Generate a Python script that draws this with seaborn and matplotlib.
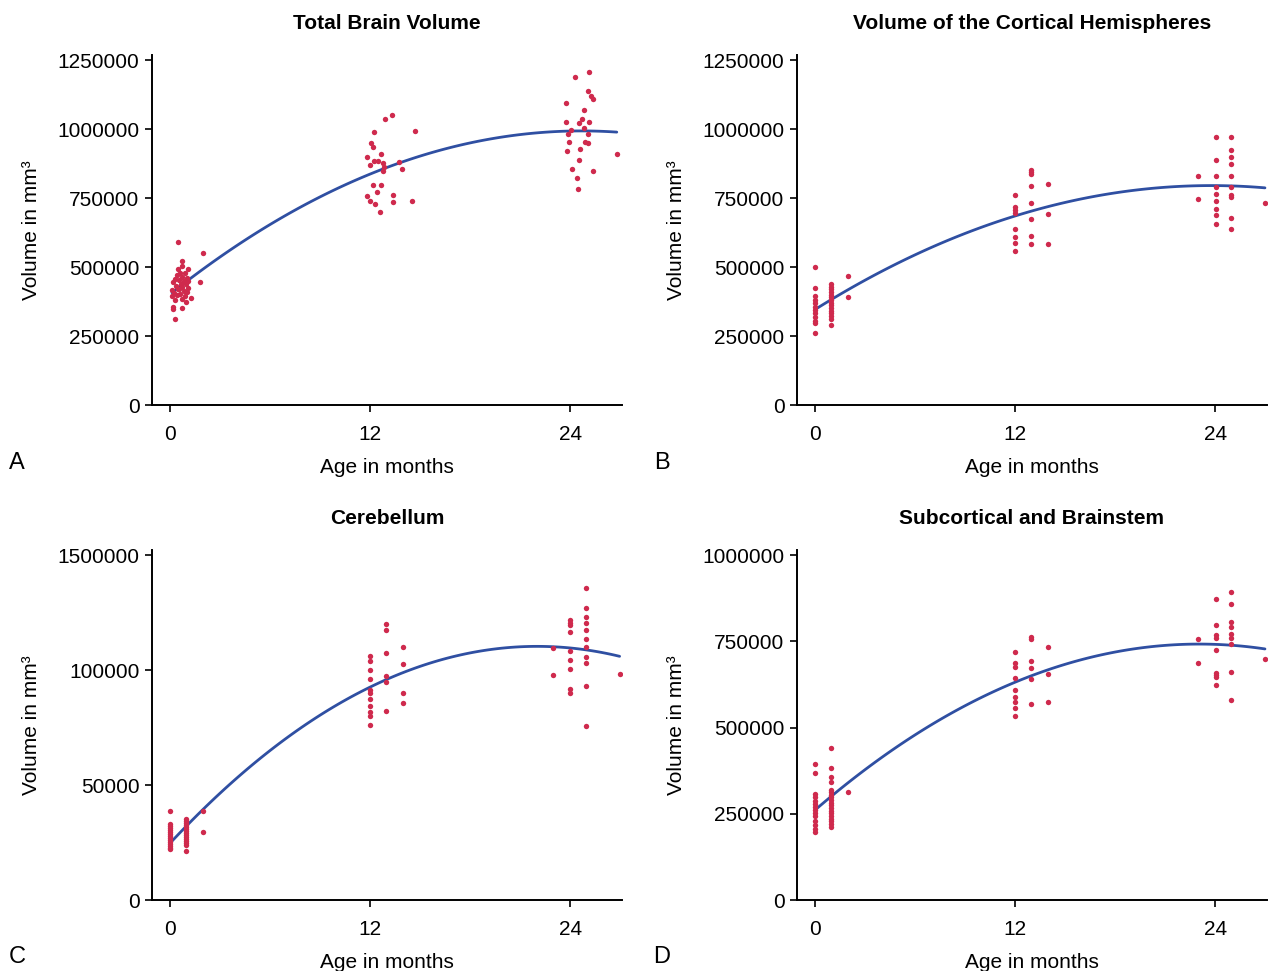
import numpy as np
import pandas as pd
import matplotlib
matplotlib.use("Agg")
import matplotlib.pyplot as plt
import seaborn as sns

# Total brain volume: (age, volume) read point by point
tbv_age = [0.46, 1.98, 0.74, 0.74, 0.48, 1.06, 0.60, 0.90, 0.40, 0.70,
           1.00, 0.30, 0.55, 0.85, 1.10, 0.20, 0.65, 0.95, 1.80, 0.35,
           0.75, 1.05, 0.50, 0.15, 0.85, 0.25, 0.60, 1.26, 0.12, 0.40,
           0.90, 0.70, 0.30, 0.94, 0.20, 0.17, 0.70, 0.32, 0.55, 1.00,
           13.31, 12.90, 12.26, 14.69, 12.04, 12.17, 12.68, 11.81, 12.26, 12.50,
           12.75, 13.73, 11.99, 12.86, 13.91, 12.75, 12.20, 12.65, 12.40, 11.84,
           13.37, 11.99, 13.37, 14.53, 12.32, 12.57,
           25.15, 24.29, 25.09, 25.23, 25.37, 23.75, 24.85, 24.69, 23.75, 24.51,
           25.13, 24.85, 24.07, 23.85, 25.09, 23.95, 24.89, 25.07, 23.79, 24.61,
           26.79, 24.55, 24.13, 25.35, 24.43, 24.45]
tbv_vol = [590000, 550000, 523000, 505000, 494000, 494000, 480000, 478000, 470000, 465000,
           462000, 455000, 452000, 450000, 448000, 445000, 440000, 438000, 445000, 432000,
           428000, 425000, 420000, 415000, 412000, 405000, 402000, 387000, 394000, 398000,
           395000, 385000, 380000, 374000, 356000, 348000, 350000, 310000, 420000, 410000,
           1051000, 1036000, 989000, 993000, 950000, 935000, 909000, 900000, 884000, 883000,
           876000, 882000, 868000, 861000, 855000, 847000, 797000, 796000, 771000, 756000,
           760000, 740000, 734000, 739000, 728000, 698000,
           1208000, 1187000, 1138000, 1120000, 1108000, 1093000, 1069000, 1036000, 1025000, 1023000,
           1026000, 1004000, 996000, 981000, 981000, 954000, 954000, 949000, 920000, 929000,
           908000, 888000, 856000, 847000, 823000, 782000]

# Other panels: points stacked in columns at a few ages
ctx_ages = [0.0, 0.94, 1.96, 12.0, 12.96, 13.96, 22.94, 24.02, 24.96, 26.98]
ctx_vols = [[498900, 425000, 396000, 381500, 368500, 356200, 344200, 332200, 320100, 305400, 296000, 259800],
            [438400, 428700, 419200, 409400, 399600, 390200, 380400, 370700, 361200, 351400, 341700, 332200,
             322500, 312800, 291000],
            [467400, 390200],
            [759800, 718500, 706500, 694600, 637700, 607600, 588000, 559000],
            [851400, 844200, 835700, 794600, 733000, 672800, 611200, 583300],
            [800700, 690900, 583300],
            [828600, 747500],
            [972100, 888800, 828600, 788800, 763400, 740200, 710100, 689500, 656900],
            [972100, 925000, 898600, 872100, 828600, 788800, 759800, 753600, 678600, 637700],
            [731900]]

cb_ages = [0.0, 0.98, 1.99, 12.02, 12.98, 13.97, 22.95, 24.01, 24.93, 26.96]
cb_vols = [[38560, 33040, 32170, 31300, 30430, 29570, 28700, 27830, 26960, 26090, 25220, 24350, 23480,
            22610, 22040],
           [35070, 34200, 33330, 32460, 31590, 30720, 29860, 28990, 28120, 27250, 26380, 25510, 24650,
            23780, 21170],
           [38560, 29570],
           [106090, 104040, 99870, 96220, 91300, 89870, 87390, 84200, 81870, 80000, 76090],
           [119870, 117260, 107260, 97520, 94910, 82040],
           [109870, 102610, 89870, 85520],
           [109430, 97830],
           [121740, 120570, 119570, 116390, 108390, 104480, 100430, 91610, 90130],
           [135780, 126960, 123040, 120570, 117390, 113480, 109870, 105650, 103040, 93170, 75780],
           [98390]]

sub_ages = [0.0, 0.94, 1.96, 12.0, 12.96, 13.96, 22.94, 24.02, 24.94, 26.98]
sub_vols = [[393300, 367200, 306400, 297700, 287800, 279100, 270400, 260900, 253000, 244300, 229900,
             218300, 206700, 198000],
            [440600, 381700, 357400, 342900, 319700, 313000, 305200, 297700, 289900, 282000, 274500,
             266700, 258800, 251300, 243500, 235700, 228100, 220300, 212500],
            [313000],
            [718800, 687800, 676200, 644300, 608700, 588400, 573000, 555600, 534200],
            [763200, 755600, 691900, 672500, 640600, 568100],
            [732500, 655100, 573900],
            [755600, 686100],
            [873300, 798000, 769000, 759400, 724600, 657100, 651300, 647300, 623200],
            [892800, 858800, 804900, 790400, 771000, 758600, 742000, 660000, 578800],
            [697700]]

titles = ["Total Brain Volume", "Volume of the Cortical Hemispheres", "Cerebellum",
          "Subcortical and Brainstem"]
letters = ["A", "B", "C", "D"]
y_ticks = [[0, 250000, 500000, 750000, 1000000, 1250000],
           [0, 250000, 500000, 750000, 1000000, 1250000],
           [0, 50000, 100000, 150000],
           [0, 250000, 500000, 750000, 1000000]]
y_ticklabels = [["0", "250000", "500000", "750000", "1000000", "1250000"],
                ["0", "250000", "500000", "750000", "1000000", "1250000"],
                ["0", "50000", "100000", "1500000"],
                ["0", "250000", "500000", "750000", "1000000"]]


def columns_to_frame(ages, vols):
    rows = [(a, v) for a, col in zip(ages, vols) for v in col]
    return pd.DataFrame(rows, columns=["age", "vol"])


frames = [pd.DataFrame({"age": tbv_age, "vol": tbv_vol}),
          columns_to_frame(ctx_ages, ctx_vols),
          columns_to_frame(cb_ages, cb_vols),
          columns_to_frame(sub_ages, sub_vols)]

sns.set_style("ticks")
plt.rcParams["font.family"] = ["Liberation Sans", "DejaVu Sans"]
plt.rcParams["font.size"] = 15
plt.rcParams["text.color"] = "black"
plt.rcParams["axes.labelcolor"] = "black"
plt.rcParams["xtick.color"] = "black"
plt.rcParams["ytick.color"] = "black"

red = "#cf2a4d"
blue = "#2f4fa2"

fig = plt.figure(figsize=(12.75, 9.71), dpi=100)
positions = [[0.1192, 0.5829, 0.3686, 0.3604],
             [0.6251, 0.5829, 0.3686, 0.3604],
             [0.1192, 0.0731, 0.3686, 0.3604],
             [0.6251, 0.0731, 0.3686, 0.3604]]

for i, df in enumerate(frames):
    ax = fig.add_axes(positions[i])
    sns.regplot(data=df, x="age", y="vol", order=2, ci=None, scatter=False,
                color=blue, line_kws={"linewidth": 2.0}, truncate=True, ax=ax)
    sns.scatterplot(data=df, x="age", y="vol", color=red, s=15, linewidth=0, ax=ax, zorder=3)
    top = y_ticks[i][-1]
    ax.set_ylim(0, top * 350 / 345)
    ax.set_xlim(-1.08, 27.1)
    ax.set_xticks([0, 12, 24])
    ax.set_yticks(y_ticks[i])
    ax.set_yticklabels(y_ticklabels[i])
    ax.set_xlabel("Age in months", labelpad=10)
    ax.set_ylabel("Volume in mm³", labelpad=12)
    ax.set_title(titles[i], fontweight="bold", fontsize=15, pad=18.5, color="black")
    sns.despine(ax=ax)
    for s in ["left", "bottom"]:
        ax.spines[s].set_linewidth(1.4)
        ax.spines[s].set_color("black")
    ax.tick_params(axis="both", length=5, width=1.2, colors="black", labelsize=15)
    ax.tick_params(axis="x", pad=9.5)
    ax.tick_params(axis="y", pad=4)

fig.text(17 / 1275, 1 - 463 / 971, "A", fontsize=17, ha="center", va="center")
fig.text(662 / 1275, 1 - 463 / 971, "B", fontsize=17, ha="center", va="center")
fig.text(17 / 1275, 1 - 957 / 971, "C", fontsize=17, ha="center", va="center")
fig.text(662 / 1275, 1 - 957 / 971, "D", fontsize=17, ha="center", va="center")

fig.savefig("out.png", dpi=100)
